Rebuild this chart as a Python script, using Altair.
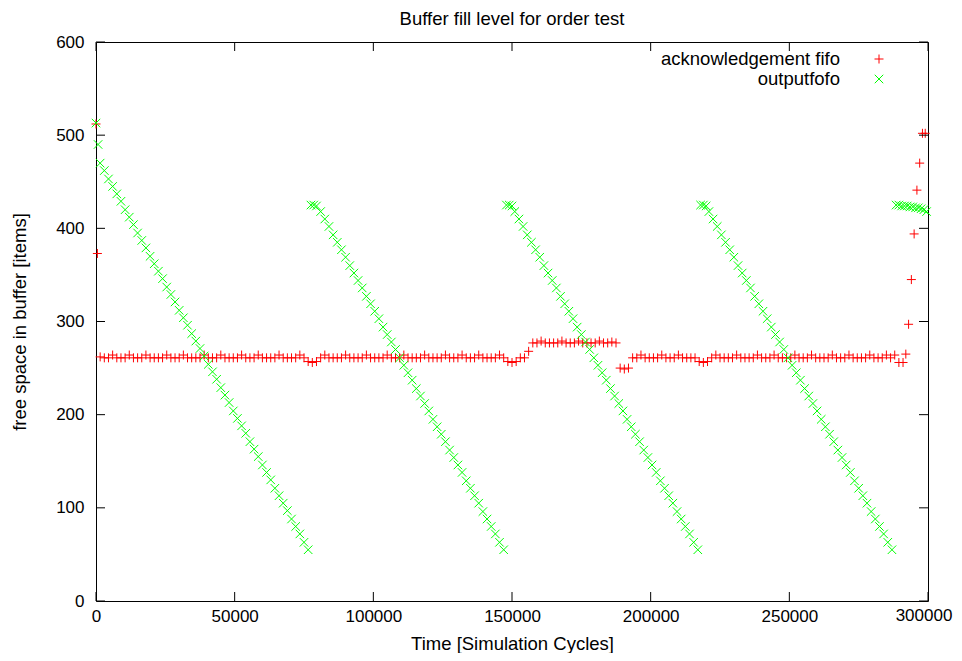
import altair as alt
import pandas as pd

FONT = "Liberation Sans"
TITLE = "Buffer fill level for order test"
X_TITLE = "Time [Simulation Cycles]"
Y_TITLE = "free space in buffer [items]"
SERIES = ["acknowledgement fifo", "outputfofo"]
COLORS = ["#ff0000", "#00ff00"]

X_TICKS = [0, 50000, 100000, 150000, 200000, 250000, 300000]
Y_TICKS = [0, 100, 200, 300, 400, 500, 600]

# acknowledgement fifo: time in thousands of cycles, free space
ack_time_k = [
    0, 0.5,
    1.5, 3, 4.5, 6, 7.5, 9, 10.5, 12, 13.5, 15,
    16.5, 18, 19.5, 21, 22.5, 24, 25.5, 27, 28.5, 30,
    31.5, 33, 34.5, 36, 37.5, 39, 40.5, 42, 43.5, 45,
    46.5, 48, 49.5, 51, 52.5, 54, 55.5, 57, 58.5, 60,
    61.5, 63, 64.5, 66, 67.5, 69, 70.5, 72, 73.5, 75,
    76.5, 78, 79.5, 81, 82.5, 84, 85.5, 87, 88.5, 90,
    91.5, 93, 94.5, 96, 97.5, 99, 100.5, 102, 103.5, 105,
    106.5, 108, 109.5, 111, 112.5, 114, 115.5, 117, 118.5, 120,
    121.5, 123, 124.5, 126, 127.5, 129, 130.5, 132, 133.5, 135,
    136.5, 138, 139.5, 141, 142.5, 144, 145.5, 147, 148.5, 150,
    151.5, 153, 154.5, 156, 157.5, 159, 160.5, 162, 163.5, 165,
    166.5, 168, 169.5, 171, 172.5, 174, 175.5, 177, 178.5, 180,
    181.5, 183, 184.5, 186, 187.5, 189, 190.5, 192, 193.5, 195,
    196.5, 198, 199.5, 201, 202.5, 204, 205.5, 207, 208.5, 210,
    211.5, 213, 214.5, 216, 217.5, 219, 220.5, 222, 223.5, 225,
    226.5, 228, 229.5, 231, 232.5, 234, 235.5, 237, 238.5, 240,
    241.5, 243, 244.5, 246, 247.5, 249, 250.5, 252, 253.5, 255,
    256.5, 258, 259.5, 261, 262.5, 264, 265.5, 267, 268.5, 270,
    271.5, 273, 274.5, 276, 277.5, 279, 280.5, 282, 283.5, 285,
    286.5, 288, 289.5,
    291, 292, 293, 294, 295, 296, 297, 298, 299,
]
ack_free = [
    512, 373,
    262, 261, 261, 264, 261, 261, 261, 264, 261, 261,
    261, 264, 261, 261, 261, 261, 264, 261, 261, 261,
    264, 261, 261, 261, 261, 264, 261, 261, 261, 264,
    261, 261, 261, 261, 264, 261, 261, 261, 264, 261,
    261, 261, 261, 264, 261, 261, 261, 261, 264, 261,
    257, 256, 257, 261, 264, 261, 261, 261, 261, 264,
    261, 261, 261, 261, 264, 261, 261, 261, 261, 264,
    261, 261, 261, 264, 261, 261, 261, 261, 264, 261,
    261, 261, 261, 264, 261, 261, 261, 264, 261, 261,
    261, 264, 261, 261, 261, 261, 264, 261, 257, 256,
    257, 261, 261, 268, 277, 277, 279, 277, 277, 277,
    277, 279, 277, 277, 277, 279, 277, 277, 277, 277,
    279, 277, 277, 278, 277, 250, 249, 250, 261, 261,
    264, 261, 261, 261, 261, 264, 261, 261, 261, 264,
    261, 261, 261, 261, 257, 256, 257, 261, 264, 261,
    261, 261, 261, 264, 261, 261, 261, 261, 264, 261,
    261, 261, 264, 261, 261, 261, 261, 264, 261, 261,
    261, 264, 261, 261, 261, 261, 264, 261, 261, 261,
    264, 261, 261, 261, 261, 264, 261, 261, 261, 264,
    261, 264, 256,
    256, 265, 297, 345, 394, 441, 470, 502, 502,
]

# outputfofo: time in thousands of cycles, free space (segments)
out_start_time_k = [0, 0.75]
out_start_free = [513, 490]

ramp1_time_k = [
    1.5, 3, 4.5, 6, 7.5, 9, 10.5, 12, 13.5, 15,
    16.5, 18, 19.5, 21, 22.5, 24, 25.5, 27, 28.5, 30,
    31.5, 33, 34.5, 36, 37.5, 39, 40.5, 42, 43.5, 45,
    46.5, 48, 49.5, 51, 52.5, 54, 55.5, 57, 58.5, 60,
    61.5, 63, 64.5, 66, 67.5, 69, 70.5, 72, 73.5, 75,
    76.5,
]
ramp1_free = [
    470, 462, 453, 445, 437, 429, 420, 412, 404, 395,
    387, 379, 370, 362, 354, 346, 337, 329, 321, 312,
    304, 296, 287, 279, 271, 263, 254, 246, 238, 229,
    221, 213, 204, 196, 188, 180, 171, 163, 155, 146,
    138, 130, 121, 113, 105, 97, 88, 80, 72, 63,
    55,
]

ramp2_time_k = [
    77.5, 78.5, 79.5,
    81, 82.5, 84, 85.5, 87, 88.5, 90, 91.5, 93, 94.5,
    96, 97.5, 99, 100.5, 102, 103.5, 105, 106.5, 108, 109.5,
    111, 112.5, 114, 115.5, 117, 118.5, 120, 121.5, 123, 124.5,
    126, 127.5, 129, 130.5, 132, 133.5, 135, 136.5, 138, 139.5,
    141, 142.5, 144, 145.5, 147,
]
ramp2_free = [
    425, 425, 424,
    418, 410, 402, 393, 385, 377, 369, 360, 352, 344,
    336, 327, 319, 311, 303, 294, 286, 278, 270, 261,
    253, 245, 237, 228, 220, 212, 204, 195, 187, 179,
    171, 162, 154, 146, 138, 129, 121, 113, 105, 96,
    88, 80, 72, 63, 55,
]

ramp3_time_k = [
    148, 149, 150,
    151, 152.5, 154, 155.5, 157, 158.5, 160, 161.5, 163, 164.5,
    166, 167.5, 169, 170.5, 172, 173.5, 175, 176.5, 178, 179.5,
    181, 182.5, 184, 185.5, 187, 188.5, 190, 191.5, 193, 194.5,
    196, 197.5, 199, 200.5, 202, 203.5, 205, 206.5, 208, 209.5,
    211, 212.5, 214, 215.5, 217,
]
ramp3_free = [
    425, 425, 424,
    418, 410, 402, 393, 385, 377, 369, 360, 352, 344,
    336, 327, 319, 311, 303, 294, 286, 278, 270, 261,
    253, 245, 237, 228, 220, 212, 204, 195, 187, 179,
    171, 162, 154, 146, 138, 129, 121, 113, 105, 96,
    88, 80, 72, 63, 55,
]

ramp4_time_k = [
    218, 219, 220,
    221, 222.5, 224, 225.5, 227, 228.5, 230, 231.5, 233, 234.5,
    236, 237.5, 239, 240.5, 242, 243.5, 245, 246.5, 248, 249.5,
    251, 252.5, 254, 255.5, 257, 258.5, 260, 261.5, 263, 264.5,
    266, 267.5, 269, 270.5, 272, 273.5, 275, 276.5, 278, 279.5,
    281, 282.5, 284, 285.5, 287,
]
ramp4_free = [
    425, 425, 424,
    418, 410, 402, 393, 385, 377, 369, 360, 352, 344,
    336, 327, 319, 311, 303, 294, 286, 278, 270, 261,
    253, 245, 237, 228, 220, 212, 204, 195, 187, 179,
    171, 162, 154, 146, 138, 129, 121, 113, 105, 96,
    88, 80, 72, 63, 55,
]

out_end_time_k = [288.5, 289.5, 290.5, 291.5, 292.5, 293.5, 294.5, 295.5, 296.5, 297.5, 298.5, 299.5]
out_end_free = [425, 425, 424, 424, 424, 423, 423, 422, 422, 421, 420, 418]

out_time_k = out_start_time_k + ramp1_time_k + ramp2_time_k + ramp3_time_k + ramp4_time_k + out_end_time_k
out_free = out_start_free + ramp1_free + ramp2_free + ramp3_free + ramp4_free + out_end_free

ack = pd.DataFrame({"t": [v * 1000 for v in ack_time_k], "free": ack_free})
out = pd.DataFrame({"t": [v * 1000 for v in out_time_k], "free": out_free})
xt = pd.DataFrame({"t": X_TICKS})
yt = pd.DataFrame({"free": Y_TICKS})
last_xt = pd.DataFrame({"t": X_TICKS[-1:], "lab": [str(X_TICKS[-1])]})

W, H = 832, 559
FS_LAB = 17
FS_TXT = 18.5
TICK = 9
LABEL_PAD = 7

PLUS = "M-1,0L1,0M0,-1L0,1"
CROSS = "M-1,-1L1,1M-1,1L1,-1"

x_scale = alt.Scale(domain=[0, 300000], nice=False, zero=False)
y_scale = alt.Scale(domain=[0, 600], nice=False, zero=False)

X_ENC = alt.X(
    "t:Q", scale=x_scale,
    axis=alt.Axis(values=X_TICKS, format="d", title=X_TITLE, labelFlush=False,
                  labelOverlap=False, labelPadding=LABEL_PAD, titlePadding=10,
                  labelExpr="datum.value == 300000 ? '' : datum.label"),
)
Y_ENC = alt.Y(
    "free:Q", scale=y_scale,
    axis=alt.Axis(values=Y_TICKS, format="d", title=Y_TITLE, labelFlush=False,
                  labelOverlap=False, labelPadding=12, titlePadding=26),
)

ack_pts = alt.Chart(ack).mark_point(
    shape=PLUS, size=81, filled=False, strokeWidth=1, color=COLORS[0], opacity=1
).encode(x=X_ENC, y=Y_ENC)

out_pts = alt.Chart(out).mark_point(
    shape=CROSS, size=72, filled=False, strokeWidth=1, color=COLORS[1], opacity=1
).encode(x=X_ENC, y=Y_ENC)

tick_style = dict(color="black", strokeWidth=1)
xt_bottom = alt.Chart(xt).mark_rule(**tick_style).encode(x=X_ENC, y=alt.value(H), y2=alt.value(H - TICK))
xt_top = alt.Chart(xt).mark_rule(**tick_style).encode(x=X_ENC, y=alt.value(0), y2=alt.value(TICK))
yt_left = alt.Chart(yt).mark_rule(**tick_style).encode(y=Y_ENC, x=alt.value(0), x2=alt.value(TICK))
yt_right = alt.Chart(yt).mark_rule(**tick_style).encode(y=Y_ENC, x=alt.value(W), x2=alt.value(W - TICK))

# last x tick label, nudged left a little so it stays inside the page
last_label = alt.Chart(last_xt).mark_text(
    align="center", baseline="top", font=FONT, fontSize=FS_LAB, color="black", dx=-4
).encode(x=X_ENC, y=alt.value(H + LABEL_PAD), text="lab:N")

LEG_TEXT_X = 744
LEG_SYM_X = 783
LEG_Y = [17, 37]

leg_layers = []
for i, (name, col, shp, sz) in enumerate(zip(SERIES, COLORS, [PLUS, CROSS], [81, 72])):
    d = pd.DataFrame({"label": [name]})
    leg_layers.append(
        alt.Chart(d).mark_text(align="right", baseline="middle", font=FONT, fontSize=FS_TXT, color="black")
        .encode(text="label:N", x=alt.value(LEG_TEXT_X), y=alt.value(LEG_Y[i]))
    )
    leg_layers.append(
        alt.Chart(d).mark_point(shape=shp, size=sz, filled=False, strokeWidth=1, color=col, opacity=1)
        .encode(x=alt.value(LEG_SYM_X), y=alt.value(LEG_Y[i]))
    )

chart = alt.layer(
    ack_pts, out_pts, xt_bottom, xt_top, yt_left, yt_right, last_label, *leg_layers
).properties(
    width=W, height=H,
    title=alt.TitleParams(TITLE, anchor="middle", frame="group"),
    autosize=alt.AutoSizeParams(type="none"),
    padding={"left": 88, "top": 34, "right": 26, "bottom": 52},
    background="white",
).configure_view(
    stroke="black", strokeWidth=1
).configure_axis(
    labelFont=FONT, titleFont=FONT, labelFontSize=FS_LAB, titleFontSize=FS_TXT,
    labelColor="black", titleColor="black", titleFontWeight="normal",
    grid=False, domain=False, ticks=False, tickSize=0,
).configure_title(
    font=FONT, fontSize=FS_TXT, fontWeight="normal", color="black", offset=5
)

chart.save("out.html", embed_options={"renderer": "svg", "actions": False})
